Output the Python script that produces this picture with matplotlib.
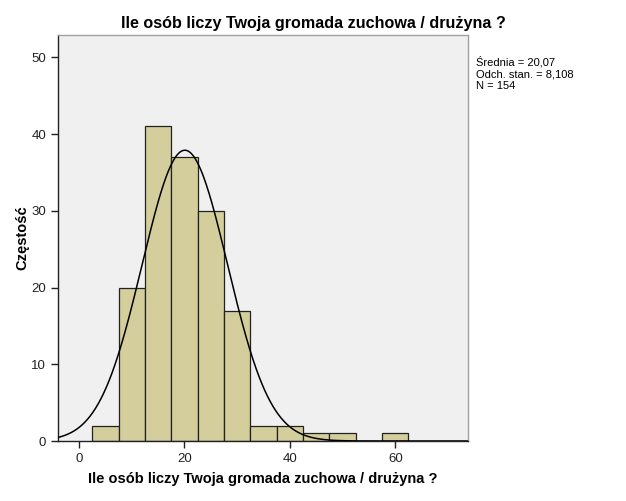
import numpy as np
import matplotlib
matplotlib.use("Agg")
import matplotlib.pyplot as plt

bin_edges = [2.5, 7.5, 12.5, 17.5, 22.5, 27.5, 32.5, 37.5, 42.5, 47.5, 52.5, 57.5, 62.5]
counts = [2, 20, 41, 37, 30, 17, 2, 2, 1, 1, 0, 1]
mean = 20.07
std = 8.108
n = 154
title = "Ile osób liczy Twoja gromada zuchowa / drużyna ?"
ylabel = "Częstość"
stats_text = "Średnia = 20,07\nOdch. stan. = 8,108\nN = 154"
xticks = [0, 20, 40, 60]
yticks = [0, 10, 20, 30, 40, 50]

plt.rcParams['font.family'] = ['Liberation Sans', 'DejaVu Sans']
fig = plt.figure(figsize=(6.26, 5.01), dpi=100)
ax = fig.add_axes([58/626, 1-441/501, (468-58)/626, (441-35)/501])
ax.set_facecolor('#f0f0f0')

lefts = np.array(bin_edges[:-1])
widths = np.diff(bin_edges)
ax.bar(lefts, counts, width=widths, align='edge', color='#d3ce9c',
       edgecolor='#222222', linewidth=0.9, zorder=2)

bw = widths[0]
xs = np.linspace(-4, 74, 600)
ys = n * bw * np.exp(-0.5 * ((xs - mean) / std) ** 2) / (std * np.sqrt(2 * np.pi))
ax.plot(xs, ys, color='black', linewidth=1.1, zorder=3)

ax.set_xlim(-4, 73.8)
ax.set_ylim(0, 52.9)
ax.set_xticks(xticks)
ax.set_yticks(yticks)
ax.tick_params(direction='out', length=5, width=1, labelsize=9.5, colors='#222222')
for s in ['left', 'bottom']:
    ax.spines[s].set_color('#222222')
    ax.spines[s].set_linewidth(1)
for s in ['top', 'right']:
    ax.spines[s].set_color('#a0a0a0')
    ax.spines[s].set_linewidth(1)

fig.text(0.5, 1 - 23.5/501, title, fontsize=11.6, fontweight='bold',
         ha='center', va='center')
ax.set_xlabel(title, fontsize=10.5, fontweight='bold')
ax.xaxis.set_label_coords(0.5, -(472 - 441) / 406, transform=ax.transAxes)
ax.set_ylabel(ylabel, fontsize=10.5, fontweight='bold')
ax.yaxis.set_label_coords(-(58 - 29) / 410, 0.5, transform=ax.transAxes)

fig.text(476/626, 1-56/501, stats_text, fontsize=8, va='top', ha='left',
         linespacing=1.2)

fig.savefig("out.png", dpi=100)
